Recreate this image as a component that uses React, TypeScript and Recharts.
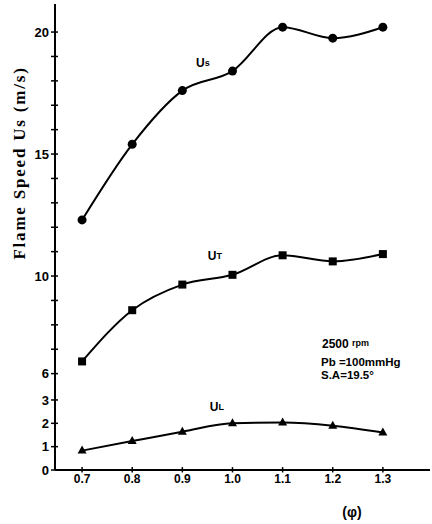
import React from 'react';
import { LineChart, Line, XAxis, YAxis, Customized, ReferenceDot, ReferenceLine } from 'recharts';

// Equivalence ratio (phi)
const phi = [0.7, 0.8, 0.9, 1.0, 1.1, 1.2, 1.3];
// Flame speeds (m/s)
const us = [12.3, 15.4, 17.6, 18.4, 20.2, 19.75, 20.2];
const ut = [6.5, 8.6, 9.65, 10.05, 10.85, 10.6, 10.9];
const ul = [0.83, 1.24, 1.64, 2.0, 2.03, 1.9, 1.61];

const yLabelTicks = [0, 1, 2, 3, 6, 10, 15, 20];
const yMinorTicks = [7, 8, 9, 11, 12, 13, 14, 16, 17, 18, 19];
const xTickLabels = ['0.7', '0.8', '0.9', '1.0', '1.1', '1.2', '1.3'];

const X_MIN = 0.646;
const X_MAX = 1.394;
const Y_MAX = 21.15;

// broken axis: 0..3 expanded, 3..6 compressed, 6..20 linear
const Y0 = 2.05;
const f = (v: number) => {
  if (v >= 6) return v;
  if (v <= 3) return Y0 + v * 0.957;
  const y3 = Y0 + 3 * 0.957;
  return y3 + ((v - 3) * (6 - y3)) / 3;
};

const data = phi.map((p, i) => ({ phi: p, us: f(us[i]), ut: f(ut[i]), ul: f(ul[i]) }));

const labelPos = yLabelTicks.map(f);
const tickMarks = [...yLabelTicks, ...yMinorTicks].map(f);

const Circle = (p: any) => <circle key={p.index} cx={p.cx} cy={p.cy} r={4.5} fill="#000" />;
const Square = (p: any) => <rect key={p.index} x={p.cx - 4} y={p.cy - 4} width={8} height={8} fill="#000" />;
const Tri = (p: any) => (
  <path key={p.index} d={`M${p.cx},${p.cy - 5} L${p.cx + 4.5},${p.cy + 3} L${p.cx - 4.5},${p.cy + 3} Z`} fill="#000" />
);

const sans = '"Liberation Sans", Arial, sans-serif';

const Overlay = () => (
  <g>
    <text
      x={19}
      y={163}
      transform="rotate(-90 19 163)"
      textAnchor="middle"
      dominantBaseline="central"
      fontFamily='"Liberation Serif", "DejaVu Serif", serif'
      fontSize={17}
      fontWeight="bold"
      letterSpacing={1.8}
      fill="#000"
    >
      Flame Speed Us (m/s)
    </text>
    <text x={352} y={517} textAnchor="middle" fontFamily={sans} fontWeight="bold" fontSize={14} fill="#000">
      (φ)
    </text>
    <g fontFamily={sans} fontWeight="bold" fill="#000">
      <text x={322} y={348} fontSize={12}>
        2500 <tspan fontSize={9} dy={-2}>rpm</tspan>
      </text>
      <text x={321} y={366} fontSize={11.5}>Pb =100mmHg</text>
      <text x={321} y={379} fontSize={11.5}>S.A=19.5°</text>
    </g>
  </g>
);

const SeriesLabel = (main: string, sub: string) => (props: any) => {
  const { viewBox } = props;
  const cx = viewBox.x + (viewBox.width || 0) / 2;
  const cy = viewBox.y + (viewBox.height || 0) / 2;
  return (
    <text x={cx} y={cy} textAnchor="middle" dominantBaseline="central" fontFamily={sans} fontWeight="bold" fontSize={12} fill="#000">
      {main}
      <tspan fontSize={9}>{sub}</tspan>
    </text>
  );
};

export default function App() {
  return (
    <div style={{ position: 'absolute', left: 0, top: 0, width: 432, height: 524, background: '#fff' }}>
      <LineChart width={432} height={524} data={data} margin={{ top: 4, right: 2, left: 0, bottom: 0 }}>
        <XAxis
          dataKey="phi"
          type="number"
          domain={[X_MIN, X_MAX]}
          ticks={phi}
          tickFormatter={(v: number, i: number) => xTickLabels[i] ?? String(v)}
          interval={0}
          allowDataOverflow
          height={54}
          axisLine={{ stroke: '#000', strokeWidth: 2 }}
          tickLine={false}
          tickSize={4}
          tickMargin={0}
          tick={{ fill: '#000', fontSize: 12, fontWeight: 'bold', fontFamily: sans }}
        />
        <XAxis xAxisId="top" orientation="top" dataKey="phi" type="number" domain={[X_MIN, X_MAX]} height={0} tick={false} tickLine={false} axisLine={{ stroke: '#000', strokeWidth: 2 }} />
        <YAxis
          type="number"
          domain={[Y0, Y_MAX]}
          ticks={labelPos}
          tickFormatter={(v: number, i: number) => String(yLabelTicks[i] ?? '')}
          interval={0}
          allowDataOverflow
          width={55}
          axisLine={{ stroke: '#000', strokeWidth: 2 }}
          tickLine={false}
          tickSize={4}
          tickMargin={2}
          tick={{ fill: '#000', fontSize: 13, fontWeight: 'bold', fontFamily: sans }}
        />
        <YAxis yAxisId="right" orientation="right" type="number" domain={[Y0, Y_MAX]} width={0} tick={false} tickLine={false} axisLine={{ stroke: '#000', strokeWidth: 2 }} />
        {tickMarks.map((t, i) => (
          <ReferenceLine
            key={`yt${i}`}
            segment={[{ x: X_MIN - 0.008, y: t }, { x: X_MIN + 0.006, y: t }]}
            stroke="#000"
            strokeWidth={1.5}
            ifOverflow="visible"
          />
        ))}
        {phi.map((p, i) => (
          <ReferenceLine
            key={`xt${i}`}
            segment={[{ x: p, y: Y0 - 0.1 }, { x: p, y: Y0 + 0.12 }]}
            stroke="#000"
            strokeWidth={1.5}
            ifOverflow="visible"
          />
        ))}
        <Line type="monotone" dataKey="us" stroke="#000" strokeWidth={2} dot={Circle} activeDot={false} isAnimationActive={false} />
        <Line type="monotone" dataKey="ut" stroke="#000" strokeWidth={2} dot={Square} activeDot={false} isAnimationActive={false} />
        <Line type="monotone" dataKey="ul" stroke="#000" strokeWidth={2} dot={Tri} activeDot={false} isAnimationActive={false} />
        <ReferenceDot x={0.941} y={f(18.73)} r={0} stroke="none" label={SeriesLabel('U', 's')} />
        <ReferenceDot x={0.965} y={f(10.83)} r={0} stroke="none" label={SeriesLabel('U', 'T')} />
        <ReferenceDot x={0.969} y={f(2.7)} r={0} stroke="none" label={SeriesLabel('U', 'L')} />
        <Customized component={Overlay} />
      </LineChart>
    </div>
  );
}
